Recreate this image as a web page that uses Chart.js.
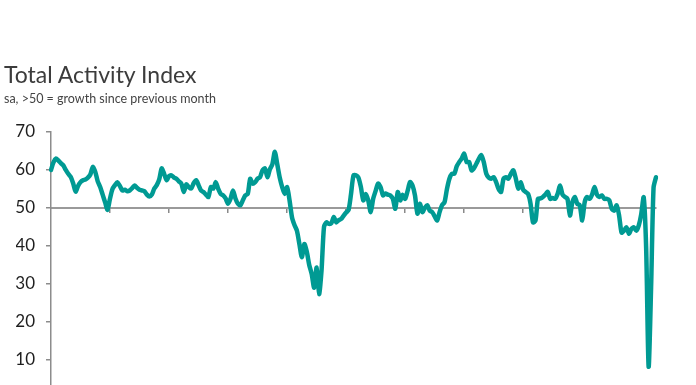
<!DOCTYPE html>
<html>
<head>
<meta charset="utf-8">
<script src="https://cdn.jsdelivr.net/npm/chart.js@4.4.1/dist/chart.umd.min.js"></script>
<style>
  html, body { margin: 0; padding: 0; background: #fff; overflow: hidden; }
  #wrap { position: relative; width: 696px; height: 419px; }
  #title { position: absolute; left: 4px; top: 60px; font: 23px Lato, sans-serif; color: #3c3c3c; line-height: 28px; white-space: nowrap; }
  #subtitle { position: absolute; left: 4px; top: 91px; font: 12.5px Lato, sans-serif; color: #444; line-height: 16px; white-space: nowrap; }
  #chart-box { position: absolute; left: 0; top: 0; width: 696px; height: 419px; }
</style>
</head>
<body>
<div id="wrap">
  <div id="chart-box"><canvas id="chart"></canvas></div>
  <div id="title">Total Activity Index</div>
  <div id="subtitle">sa, &gt;50 = growth since previous month</div>
</div>
<script>
// monthly, Jan 2000 - Jul 2020
const startYear = 2000;
const monthNames = ["Jan", "Feb", "Mar", "Apr", "May", "Jun", "Jul", "Aug", "Sep", "Oct", "Nov", "Dec"];

const activity2000s = [
  60.0, 62.0, 63.0, 62.5, 61.8, 61.2, 60.0, 59.0, 58.2, 56.5, 54.3, 55.8,
  56.8, 57.3, 57.5, 58.0, 58.8, 60.8, 59.5, 57.0, 55.5, 53.5, 51.5, 49.5,
  52.5, 55.0, 56.0, 56.8, 55.8, 54.6, 54.8, 54.4, 54.6, 55.2, 55.9, 55.3,
  54.8, 54.6, 54.4, 53.5, 53.0, 53.5, 55.1, 56.0, 57.5, 60.4, 59.0, 57.3,
  58.4, 58.6, 58.0, 57.7, 57.0, 56.4, 54.2, 56.2, 55.5, 55.1, 56.5, 57.3,
  56.0, 54.6, 54.2, 53.5, 52.9, 55.5, 55.1, 56.8, 55.0, 53.7, 53.3, 52.5,
  51.1, 52.4, 54.6, 52.5, 51.1, 50.7, 52.0, 53.3, 53.7, 57.7, 56.4, 56.8,
  57.7, 58.1, 59.9, 60.4, 58.1, 60.2, 61.5, 64.8, 61.5, 58.0, 55.5, 53.7,
  55.5, 52.0, 47.5, 45.5, 44.0, 40.5, 37.0, 40.5, 38.5, 35.0, 32.6, 29.0,
  34.3, 27.3, 33.5, 45.0, 46.2, 45.8, 46.0, 47.6, 46.2, 46.8, 47.1, 48.0
];
const activity2010s = [
  48.8, 49.5, 53.7, 58.6, 58.6, 58.0, 55.5, 52.0, 53.7, 52.0, 48.9, 52.4,
  54.5, 56.4, 55.5, 53.3, 53.8, 53.5, 53.3, 52.4, 49.8, 54.2, 52.0, 53.5,
  52.4, 54.5, 56.8, 55.9, 53.3, 48.5, 51.1, 48.9, 50.0, 50.7, 49.3, 48.9,
  47.8, 46.7, 48.9, 50.7, 51.5, 55.0, 57.7, 59.0, 59.0, 61.0, 62.1, 63.0,
  64.3, 62.1, 62.1, 59.9, 60.5, 61.7, 63.0, 63.9, 62.0, 59.0, 58.0, 57.7,
  58.1, 56.8, 55.0, 54.2, 57.7, 58.1, 57.7, 59.0, 59.9, 57.7, 55.1, 56.8,
  54.8, 54.2, 53.7, 51.1, 46.2, 46.7, 52.4, 52.5, 52.9, 53.5, 54.2, 52.4,
  52.6, 52.4, 53.7, 55.9, 53.5, 52.9, 52.4, 48.0, 51.5, 52.9, 51.1, 50.7,
  46.7, 51.5, 52.9, 52.4, 53.5, 55.5, 53.5, 52.9, 53.3, 52.4, 52.4, 52.0,
  49.8, 49.3, 50.7, 48.0, 43.5, 44.0, 44.9, 43.2, 44.5, 44.9, 44.0, 45.4
];
const activity2020 = [48.4, 52.8, 39.3, 8.2, 28.9, 55.3, 58.1];

const yTicks = [10, 20, 30, 40, 50, 60, 70];

const values = activity2000s.concat(activity2010s, activity2020);
const labels = values.map((v, i) => monthNames[i % 12] + " " + (startYear + Math.floor(i / 12)));

const teal = "#009a93";
const axisGrey = "#8c8c8c";

const ctx = document.getElementById("chart").getContext("2d");
new Chart(ctx, {
  type: "line",
  data: {
    labels: labels,
    datasets: [
      {
        label: "Total Activity Index",
        data: values,
        borderColor: teal,
        borderWidth: 4.5,
        pointRadius: 0,
        tension: 0.25,
        borderJoinStyle: "round",
        borderCapStyle: "round",
        fill: false,
      },
    ],
  },
  options: {
    responsive: true,
    maintainAspectRatio: false,
    animation: false,
    layout: {
      padding: { top: 132, left: 16, right: 40, bottom: 3 },
    },
    plugins: {
      legend: { display: false },
      tooltip: { enabled: false },
    },
    scales: {
      x: {
        type: "category",
        position: { y: 50 },
        offset: false,
        afterFit: (scale) => {
          scale.height = 0;
        },
        border: { display: true, color: "#9a9a9a", width: 2 },
        grid: {
          drawOnChartArea: false,
          drawTicks: true,
          tickLength: 4,
          lineWidth: 1.5,
          color: (c) => (c.index % 24 === 0 && c.index > 0 ? "#8a8a8a" : "rgba(0,0,0,0)"),
        },
        ticks: { display: false, autoSkip: false },
      },
      y: {
        min: 0,
        max: 70,
        afterBuildTicks: (scale) => {
          scale.ticks = yTicks.map((v) => ({ value: v }));
        },
        afterFit: (scale) => {
          scale.width = 35;
        },
        border: { display: true, color: axisGrey, width: 1.5 },
        grid: {
          drawOnChartArea: false,
          drawTicks: true,
          tickLength: 5,
          color: axisGrey,
          lineWidth: 1.5,
        },
        ticks: {
          padding: 11,
          color: "#1e1e1e",
          font: { family: "Lato", size: 17 },
        },
      },
    },
  },
});
</script>
</body>
</html>
